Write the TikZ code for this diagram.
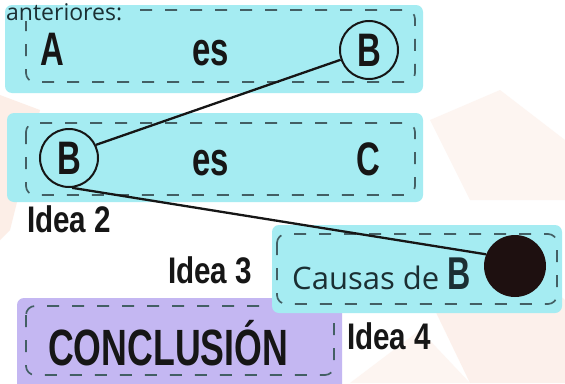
\documentclass[tikz,border=0pt]{standalone}
\usepackage{fontspec}
\newfontfamily\condA{Liberation Sans}[FakeStretch=0.7]
\newfontfamily\condB{Liberation Sans}[FakeStretch=0.8]
\newfontfamily\hum{Open Sans}
\definecolor{cyanfill}{HTML}{A5ECF2}
\definecolor{purplefill}{HTML}{C4B7F2}
\definecolor{dashcol}{HTML}{435F64}
\definecolor{inkcol}{HTML}{161616}
\definecolor{dotcol}{HTML}{1E1010}
\definecolor{humcol}{HTML}{1B2F33}
\definecolor{blob}{HTML}{FBE3D8}
\tikzset{
  boxfill/.style={fill=#1, rounded corners=7pt, draw=none},
  dashline/.style={draw=dashcol, line width=1.7pt, dash pattern=on 12pt off 13pt, rounded corners=9pt},
  bigtxt/.style={text=inkcol, inner sep=0pt, anchor=base, font=\condA\bfseries\fontsize{47}{50}\selectfont},
  ideatxt/.style={text=inkcol, inner sep=0pt, anchor=base west, font=\condB\bfseries\fontsize{37}{40}\selectfont},
  ringnode/.style={circle, draw=inkcol, line width=2pt, minimum size=58pt, inner sep=0pt, text=inkcol, font=\condA\bfseries\fontsize{47}{50}\selectfont},
  conn/.style={draw=inkcol, line width=2.3pt},
}
\begin{document}
\begin{tikzpicture}[x=1pt,y=-1pt]
\useasboundingbox[fill=white] (0,0) rectangle (565,383);
% faint background blotches
\fill[blob, opacity=0.6] (0,95) -- (40,110) -- (10,230) -- (0,240) -- cycle;
\fill[blob, opacity=0.5] (430,300) -- (520,260) -- (565,300) -- (565,383) -- (470,383) -- cycle;
\fill[blob, opacity=0.35] (350,383) -- (420,330) -- (470,383) -- cycle;
\fill[blob, opacity=0.35] (430,120) -- (500,90) -- (565,140) -- (565,200) -- (470,200) -- cycle;
% boxes
\path[boxfill=cyanfill] (5,5) rectangle (423,93);
\path[boxfill=cyanfill] (7,113) rectangle (423,202);
\path[boxfill=purplefill] (17,298) rectangle (342,395);
\draw[dashline] (26,306) rectangle (334,375);
\path[boxfill=cyanfill] (272,225) rectangle (562,313);
\draw[dashline] (140,10) -- (415,10) -- (415,82) -- (26,82) -- (26,21);
\draw[dashline] (26,123) rectangle (415,195);
\draw[dashline] (277,234) rectangle (557,304);
% texts
\node[inner sep=0pt, anchor=base west, text=humcol, font=\hum\fontsize{23}{25}\selectfont] (ant) at (6,20) {anteriores:};
\node[bigtxt] (A) at (52,65) {A};
\node[bigtxt] (es1) at (211,65) {es};
\node[ringnode] (B1) at (369,50) {B};
\node[ringnode] (B2) at (69,158) {B};
\node[bigtxt] (es2) at (211,175) {es};
\node[bigtxt] (C) at (368,175) {C};
\node[ideatxt] (i2) at (27,232) {Idea 2};
\node[ideatxt] (i3) at (168,283) {Idea 3};
\node[inner sep=0pt, anchor=base west, text=humcol] (caus) at (292,289) {\hum\fontsize{31}{33}\selectfont Causas de \condA\bfseries\fontsize{46}{48}\selectfont B};
\node[circle, fill=dotcol, minimum size=62pt, inner sep=0pt] (dot) at (515,266) {};
\node[inner sep=0pt, anchor=base west, text=inkcol, font=\condA\bfseries\fontsize{51}{54}\selectfont] (concl) at (48,365) {CONCLUSIÓN};
\node[ideatxt] (i4) at (347,349) {Idea 4};
% connectors
\draw[conn] (B1.199) -- (B2.26);
\draw[conn] (B2.-84) -- (dot.158);
\end{tikzpicture}
\end{document}
